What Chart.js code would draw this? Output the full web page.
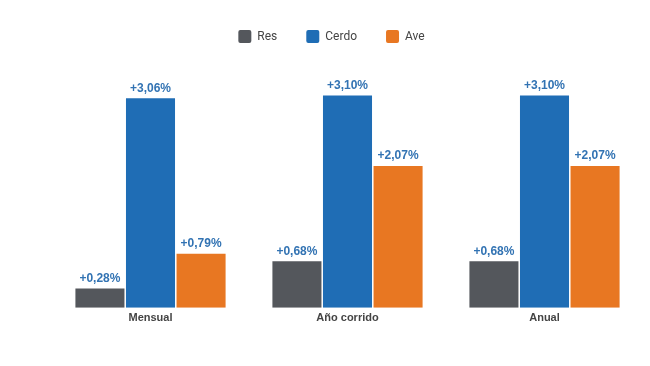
<!DOCTYPE html>
<html>
<head>
<meta charset="utf-8">
<script src="https://cdn.jsdelivr.net/npm/chart.js@4"></script>
<style>
html,body{margin:0;padding:0;background:#fff;}
#wrap{width:650px;height:366px;position:relative;}
</style>
</head>
<body>
<div id="wrap"><canvas id="c"></canvas></div>
<script>
const categories = ["Mensual", "Año corrido", "Anual"];
const seriesNames = ["Res", "Cerdo", "Ave"];
const resValues = [0.28, 0.68, 0.68];
const cerdoValues = [3.06, 3.10, 3.10];
const aveValues = [0.79, 2.07, 2.07];
const colors = ["#54575c", "#1f6db5", "#e87722"];

const labelPlugin = {
  id: 'valueLabels',
  afterDatasetsDraw(chart) {
    const ctx = chart.ctx;
    ctx.save();
    ctx.font = 'bold 12px "Liberation Sans", Arial, sans-serif';
    ctx.fillStyle = '#3273b3';
    ctx.textAlign = 'center';
    ctx.textBaseline = 'bottom';
    chart.data.datasets.forEach((ds, i) => {
      const meta = chart.getDatasetMeta(i);
      meta.data.forEach((bar, j) => {
        const v = ds.data[j];
        const txt = '+' + v.toFixed(2).replace('.', ',') + '%';
        ctx.fillText(txt, bar.x, bar.y - 4);
      });
    });
    ctx.restore();
  }
};

new Chart(document.getElementById('c'), {
  type: 'bar',
  data: {
    labels: categories,
    datasets: [
      { label: seriesNames[0], data: resValues, backgroundColor: colors[0] },
      { label: seriesNames[1], data: cerdoValues, backgroundColor: colors[1] },
      { label: seriesNames[2], data: aveValues, backgroundColor: colors[2] }
    ]
  },
  options: {
    responsive: true,
    maintainAspectRatio: false,
    animation: false,
    layout: { padding: { left: 20, right: 7, top: 1, bottom: 37 } },
    datasets: { bar: { categoryPercentage: 0.77, barPercentage: 0.97 } },
    plugins: {
      legend: {
        position: 'top',
        labels: {
          boxWidth: 13, boxHeight: 13, useBorderRadius: true, borderRadius: 2,
          color: '#444', padding: 29,
          font: { family: '"Roboto", "Liberation Sans", Arial, sans-serif', size: 12 }
        }
      },
      tooltip: { enabled: false }
    },
    scales: {
      x: {
        grid: { display: false, drawTicks: false },
        border: { display: false },
        ticks: { color: '#444', padding: 4, font: { family: '"Liberation Sans", Arial, sans-serif', size: 11, weight: 'bold' } }
      },
      y: {
        display: true,
        min: 0, max: 3.72,
        grid: { display: false, drawTicks: false },
        border: { display: false },
        ticks: { display: false },
        afterFit(scale) { scale.width = 32; }
      }
    }
  },
  plugins: [labelPlugin]
});
</script>
</body>
</html>
